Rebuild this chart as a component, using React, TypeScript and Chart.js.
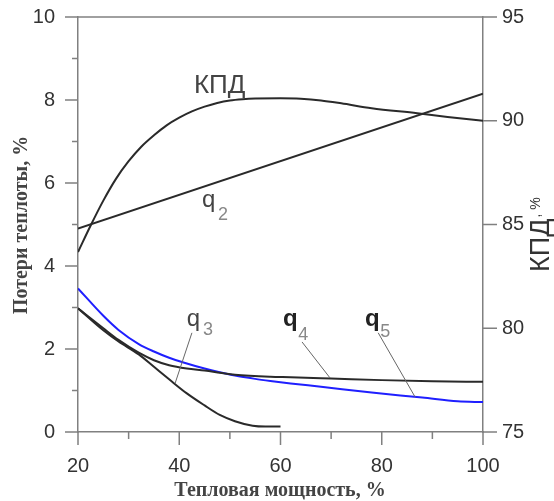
import React, { useEffect, useRef } from 'react';
import { Chart, registerables } from 'chart.js';
Chart.register(...registerables);

// Тепловая мощность, % (x) and series values
const kpdX = [20, 22.5, 25, 27.5, 30, 32.5, 35, 37.5, 40, 42.5, 45, 47.5, 50, 52.5, 55, 60, 64, 68, 72, 78, 87, 93, 100];
const kpdY = [83.67, 84.95, 86.15, 87.2, 88.05, 88.75, 89.3, 89.78, 90.15, 90.45, 90.68, 90.86, 90.98, 91.04, 91.07, 91.08, 91.06, 90.98, 90.84, 90.6, 90.36, 90.18, 90.0];

const q2X = [20, 100];
const q2Y = [4.9, 8.15];

const q3X = [20, 25, 28, 32, 35, 38, 41.5, 45, 48, 51, 54.5, 57, 60];
const q3Y = [2.98, 2.45, 2.18, 1.87, 1.57, 1.27, 0.93, 0.64, 0.41, 0.26, 0.15, 0.13, 0.13];

const q4X = [20, 25, 28, 32, 35, 38, 41.5, 45, 48, 51, 58, 62, 70, 80, 90, 100];
const q4Y = [2.98, 2.5, 2.22, 1.91, 1.73, 1.61, 1.53, 1.48, 1.43, 1.38, 1.33, 1.32, 1.29, 1.25, 1.22, 1.21];

const q5X = [20, 25, 28, 32, 35, 38, 41, 45, 48, 51, 55, 58, 62, 68, 78, 88, 95, 100];
const q5Y = [3.46, 2.8, 2.46, 2.12, 1.94, 1.79, 1.67, 1.53, 1.44, 1.36, 1.28, 1.23, 1.17, 1.09, 0.95, 0.83, 0.74, 0.72];

const xMajor = [20, 40, 60, 80, 100];
const xMinor = [30, 50, 70, 90];
const yMajor = [0, 2, 4, 6, 8, 10];
const yMinor = [1, 3, 5, 7, 9];
const y1Major = [75, 80, 85, 90, 95];

const xTitle = 'Тепловая мощность, %';
const yTitle = 'Потери теплоты, %';
const y1TitleMain = 'КПД';
const y1TitleUnit = ', %';

// curve labels: [text, subscript, x, y (left axis), subX, subY, bold]
const curveLabels: [string, string, number, number, number, number, boolean][] = [
  ['q', '2', 44.5, 5.42, 47.65, 5.11, false],
  ['q', '3', 41.5, 2.55, 44.7, 2.34, false],
  ['q', '4', 60.5, 2.55, 63.5, 2.22, true],
  ['q', '5', 76.7, 2.55, 79.7, 2.29, true],
];
const kpdLabel = { text: 'КПД', x: 42.9, y: 8.17 };
// leader lines [x1, y1, x2, y2] in data units (left axis)
const leaders = [
  [42.5, 2.39, 39.2, 1.18],
  [64.25, 2.17, 69.8, 1.3],
  [79.3, 2.39, 86.6, 0.84],
];

const pts = (xs: number[], ys: number[]) => xs.map((x, i) => ({ x, y: ys[i] }));

const AXIS = '#808080';
const SANS = '"Liberation Sans", Arial, sans-serif';
const SERIF = '"Liberation Serif", "Times New Roman", serif';

export default function App() {
  const ref = useRef<HTMLCanvasElement>(null);
  useEffect(() => {
    if (!ref.current) return;
    const deco = {
      id: 'deco',
      afterDraw(chart: any) {
        const ctx = chart.ctx;
        const { x, y, y1 } = chart.scales;
        const ca = chart.chartArea;
        ctx.save();
        ctx.strokeStyle = AXIS;
        ctx.lineWidth = 1.5;
        // top frame line
        ctx.beginPath();
        ctx.moveTo(ca.left, ca.top);
        ctx.lineTo(ca.right, ca.top);
        ctx.stroke();
        // ticks
        ctx.beginPath();
        yMajor.forEach(v => { const p = y.getPixelForValue(v); ctx.moveTo(ca.left - 13, p); ctx.lineTo(ca.left, p); });
        yMinor.forEach(v => { const p = y.getPixelForValue(v); ctx.moveTo(ca.left - 6, p); ctx.lineTo(ca.left, p); });
        xMajor.forEach(v => { const p = x.getPixelForValue(v); ctx.moveTo(p, ca.bottom); ctx.lineTo(p, ca.bottom + 13); });
        xMinor.forEach(v => { const p = x.getPixelForValue(v); ctx.moveTo(p, ca.bottom); ctx.lineTo(p, ca.bottom + 7); });
        y1Major.forEach(v => { const p = y1.getPixelForValue(v); ctx.moveTo(ca.right, p); ctx.lineTo(ca.right + 14, p); });
        ctx.stroke();

        // leader lines
        ctx.strokeStyle = '#666';
        ctx.lineWidth = 1;
        ctx.beginPath();
        leaders.forEach(([a, b, c, d]) => {
          ctx.moveTo(x.getPixelForValue(a), y.getPixelForValue(b));
          ctx.lineTo(x.getPixelForValue(c), y.getPixelForValue(d));
        });
        ctx.stroke();

        // curve labels
        ctx.textBaseline = 'alphabetic';
        ctx.textAlign = 'left';
        ctx.fillStyle = '#444';
        ctx.font = `26px ${SANS}`;
        ctx.fillText(kpdLabel.text, x.getPixelForValue(kpdLabel.x), y.getPixelForValue(kpdLabel.y));
        curveLabels.forEach(([t, s, lx, ly, sx, sy, bold]) => {
          ctx.fillStyle = bold ? '#222' : '#444';
          ctx.font = `${bold ? 'bold ' : ''}24px ${SANS}`;
          ctx.fillText(t, x.getPixelForValue(lx), y.getPixelForValue(ly));
          ctx.fillStyle = '#888';
          ctx.font = `18px ${SANS}`;
          ctx.fillText(s, x.getPixelForValue(sx), y.getPixelForValue(sy));
        });

        // axis titles
        ctx.fillStyle = '#444';
        ctx.font = `bold 20px ${SERIF}`;
        ctx.textAlign = 'center';
        ctx.fillText(xTitle, 280, 496);
        ctx.save();
        ctx.translate(27, 225);
        ctx.rotate(-Math.PI / 2);
        ctx.fillText(yTitle, 0, 0);
        ctx.restore();

        ctx.save();
        ctx.translate(549, 272);
        ctx.rotate(-Math.PI / 2);
        ctx.textAlign = 'left';
        ctx.fillStyle = '#333';
        ctx.font = `27px ${SANS}`;
        ctx.fillText(y1TitleMain, 0, 0);
        const w = ctx.measureText(y1TitleMain).width;
        ctx.font = `14px ${SANS}`;
        ctx.fillText(y1TitleUnit, w + 1, -9);
        ctx.restore();
        ctx.restore();
      },
    };

    const lineDs = (label: string, xs: number[], ys: number[], axis: string, color: string) => ({
      label, data: pts(xs, ys), yAxisID: axis, borderColor: color, borderWidth: 2,
      pointRadius: 0, cubicInterpolationMode: 'monotone',
    });

    const tickFont = { family: SANS, size: 20 };

    const chart = new Chart(ref.current, {
      type: 'line',
      data: {
        datasets: [
          lineDs('КПД', kpdX, kpdY, 'y1', '#2a2a2a'),
          lineDs('q2', q2X, q2Y, 'y', '#2a2a2a'),
          lineDs('q3', q3X, q3Y, 'y', '#2a2a2a'),
          lineDs('q4', q4X, q4Y, 'y', '#2a2a2a'),
          lineDs('q5', q5X, q5Y, 'y', '#1f1fff'),
        ],
      },
      options: {
        responsive: false,
        animation: false,
        events: [],
        layout: { padding: { top: 17, left: 0, right: 0, bottom: 0 } },
        plugins: { legend: { display: false }, tooltip: { enabled: false } },
        scales: {
          x: {
            type: 'linear', min: 20, max: 100,
            afterFit: (s: any) => { s.height = 69; s.paddingLeft = 0; s.paddingRight = 0; },
            grid: { display: false, drawTicks: false },
            border: { display: true, color: AXIS, width: 1.5 },
            ticks: { stepSize: 20, padding: 22, color: '#333', font: tickFont, maxRotation: 0 },
          },
          y: {
            type: 'linear', position: 'left', min: 0, max: 10,
            afterFit: (s: any) => { s.width = 78; s.paddingTop = 0; s.paddingBottom = 0; },
            grid: { display: false, drawTicks: false },
            border: { display: true, color: AXIS, width: 1.5 },
            ticks: { stepSize: 2, padding: 23, color: '#333', font: tickFont },
          },
          y1: {
            type: 'linear', position: 'right', min: 75, max: 95,
            afterFit: (s: any) => { s.width = 71; s.paddingTop = 0; s.paddingBottom = 0; },
            grid: { display: false, drawTicks: false },
            border: { display: true, color: AXIS, width: 1.5 },
            ticks: { stepSize: 5, padding: 19, color: '#333', font: tickFont },
          },
        },
      },
      plugins: [deco],
    } as any);
    return () => chart.destroy();
  }, []);
  return (
    <div style={{ position: 'absolute', left: 0, top: 0, width: 554, height: 501, background: '#fff' }}>
      <canvas ref={ref} width={554} height={501} style={{ display: 'block' }} />
    </div>
  );
}
